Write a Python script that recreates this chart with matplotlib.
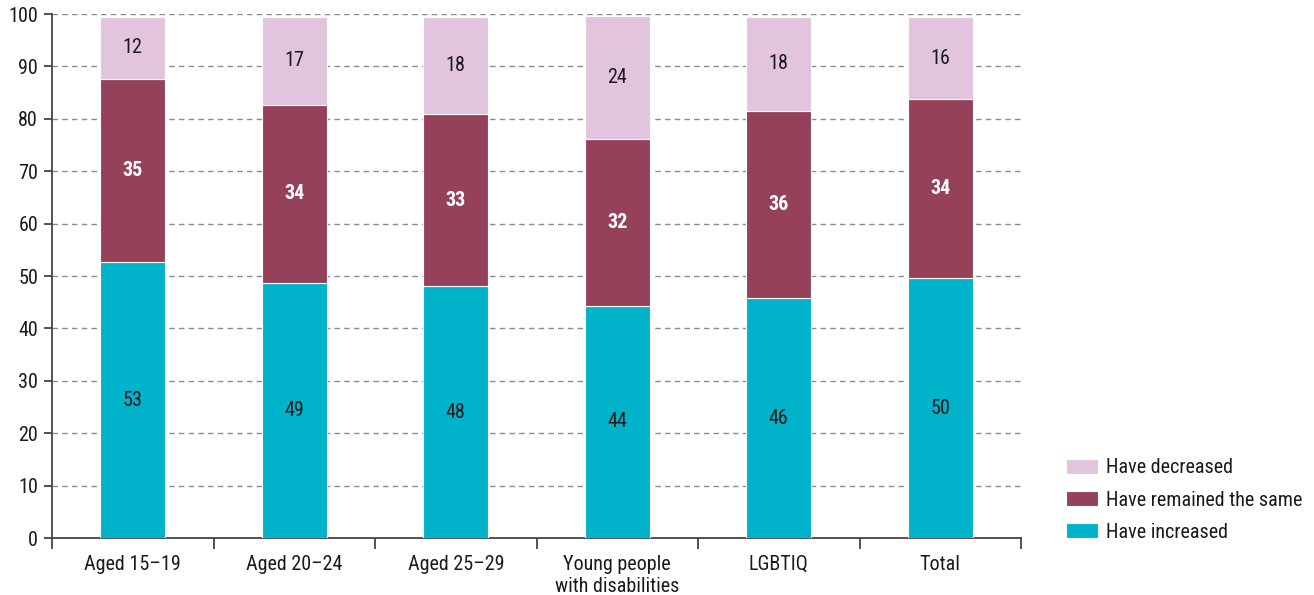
import matplotlib
matplotlib.use("Agg")
import matplotlib.pyplot as plt
from matplotlib import font_manager
import numpy as np

categories = ["Aged 15\u201319", "Aged 20\u201324", "Aged 25\u201329",
              "Young people\nwith disabilities", "LGBTIQ", "Total"]
increased = [52.6, 48.6, 48.0, 44.3, 45.8, 49.6]
remained = [35.0, 34.1, 33.0, 31.8, 35.7, 34.1]
decreased = [11.9, 16.8, 18.4, 23.6, 18.0, 15.8]
series_names = ["Have increased", "Have remained the same", "Have decreased"]
yticks = list(range(0, 101, 10))

names = {f.name for f in font_manager.fontManager.ttflist}
fam = None
for cand in ["Roboto Condensed", "Liberation Sans Narrow", "Arial Narrow", "Roboto", "DejaVu Sans"]:
    if cand in names:
        fam = cand
        break
plt.rcParams["font.family"] = [fam, "DejaVu Sans"]

c_inc = "#00B2CA"
c_same = "#96415A"
c_dec = "#E2C4DF"

W, H = 1314, 595
fig = plt.figure(figsize=(W / 100, H / 100), dpi=100)
ax = fig.add_axes([52 / W, 1 - 538 / H, (1021 - 52) / W, (538 - 14) / H])

x = np.arange(len(categories))
bw = 0.40
inc = np.array(increased)
same = np.array(remained)
dec = np.array(decreased)

b1 = ax.bar(x, inc, bw, color=c_inc, edgecolor="white", linewidth=0.8, zorder=3, label=series_names[0])
b2 = ax.bar(x, same, bw, bottom=inc, color=c_same, edgecolor="white", linewidth=0.8, zorder=3, label=series_names[1])
b3 = ax.bar(x, dec, bw, bottom=inc + same, color=c_dec, edgecolor="white", linewidth=0.8, zorder=3, label=series_names[2])

fs = 14.5
for i in range(len(x)):
    ax.text(x[i], inc[i] / 2, f"{inc[i]:.0f}", ha="center", va="center", fontsize=fs, color="#1a1a1a", zorder=4)
    ax.text(x[i], inc[i] + same[i] / 2, f"{same[i]:.0f}", ha="center", va="center", fontsize=fs,
            color="white", fontweight="bold", zorder=4)
    ax.text(x[i], inc[i] + same[i] + dec[i] / 2, f"{dec[i]:.0f}", ha="center", va="center", fontsize=fs,
            color="#1a1a1a", zorder=4)

ax.set_xlim(-0.5, len(categories) - 0.5)
ax.set_ylim(0, 100)
ax.set_yticks(yticks)
ax.set_yticklabels([str(t) for t in yticks])
ax.set_xticks(x)
ax.set_xticklabels(categories, linespacing=1.2)
ax.set_xticks(np.arange(-0.5, len(categories), 1.0), minor=True)

for s in ["top", "right"]:
    ax.spines[s].set_visible(False)
for s in ["left", "bottom"]:
    ax.spines[s].set_color("#444444")
    ax.spines[s].set_linewidth(1.3)

ax.tick_params(axis="x", which="major", length=0, pad=12, labelsize=fs, labelcolor="#1a1a1a")
ax.tick_params(axis="x", which="minor", length=8, width=1.3, color="#444444", direction="out")
ax.tick_params(axis="y", which="major", length=6, width=1.3, color="#444444", pad=4, labelsize=fs,
               labelcolor="#1a1a1a")

for t in yticks[1:]:
    ax.axhline(t, color="#8c8c8c", linewidth=1.0, linestyle=(0, (4, 3)), zorder=1)

handles = [b3, b2, b1]
labels = [series_names[2], series_names[1], series_names[0]]
fig.legend(handles, labels, loc="center left", bbox_to_anchor=(1066 / W, 1 - 500 / H),
           bbox_transform=fig.transFigure, frameon=False, fontsize=fs, borderpad=0,
           borderaxespad=0, handlelength=1.6, handleheight=0.8, handletextpad=0.4,
           labelspacing=0.65, labelcolor="#1a1a1a")

fig.savefig("out.png", dpi=100)
